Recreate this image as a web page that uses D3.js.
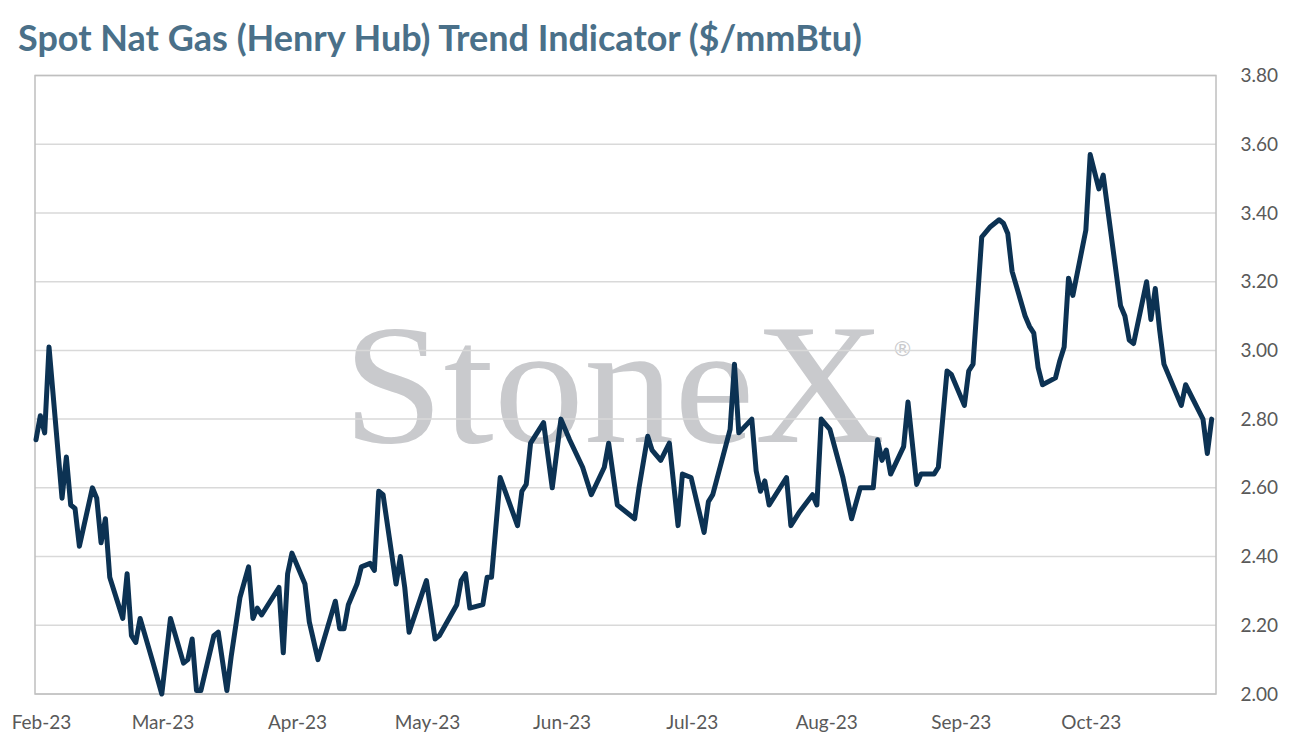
<!DOCTYPE html>
<html>
<head>
<meta charset="utf-8">
<script src="https://cdn.jsdelivr.net/npm/d3@7"></script>
<style>
  html, body { margin: 0; padding: 0; background: #ffffff; }
  svg { display: block; }
</style>
</head>
<body>
<svg id="chart" width="1292" height="754"></svg>
<script>
const titleText = "Spot Nat Gas (Henry Hub) Trend Indicator ($/mmBtu)";

const dates = [
  "2023-02-01","2023-02-02","2023-02-03","2023-02-04","2023-02-07","2023-02-08","2023-02-09","2023-02-10","2023-02-11","2023-02-14",
  "2023-02-15","2023-02-16","2023-02-17","2023-02-18","2023-02-21","2023-02-22","2023-02-23","2023-02-24","2023-02-25","2023-02-28",
  "2023-03-02","2023-03-04","2023-03-07","2023-03-08","2023-03-09","2023-03-10","2023-03-11","2023-03-14","2023-03-15","2023-03-17",
  "2023-03-18","2023-03-20","2023-03-22","2023-03-23","2023-03-24","2023-03-25","2023-03-27","2023-03-29","2023-03-30","2023-03-31",
  "2023-04-01","2023-04-04","2023-04-05","2023-04-07","2023-04-11","2023-04-12","2023-04-13","2023-04-14","2023-04-16","2023-04-17",
  "2023-04-19","2023-04-20","2023-04-21","2023-04-22","2023-04-25","2023-04-26","2023-04-27","2023-04-28",
  "2023-05-02","2023-05-04","2023-05-05","2023-05-09","2023-05-10","2023-05-11","2023-05-12","2023-05-15","2023-05-16","2023-05-17",
  "2023-05-19","2023-05-23","2023-05-24","2023-05-25","2023-05-26","2023-05-29","2023-05-31",
  "2023-06-02","2023-06-04","2023-06-07","2023-06-09","2023-06-12","2023-06-13","2023-06-15","2023-06-19","2023-06-20","2023-06-22",
  "2023-06-23","2023-06-25","2023-06-27","2023-06-29","2023-06-30",
  "2023-07-02","2023-07-05","2023-07-06","2023-07-07","2023-07-11","2023-07-12","2023-07-13","2023-07-16","2023-07-17","2023-07-18",
  "2023-07-19","2023-07-20","2023-07-24","2023-07-25","2023-07-27","2023-07-30","2023-07-31",
  "2023-08-01","2023-08-03","2023-08-06","2023-08-08","2023-08-10","2023-08-13","2023-08-14","2023-08-15","2023-08-16","2023-08-17",
  "2023-08-20","2023-08-21","2023-08-23","2023-08-24","2023-08-27","2023-08-28","2023-08-30","2023-08-31",
  "2023-09-03","2023-09-04","2023-09-05","2023-09-07","2023-09-09","2023-09-11","2023-09-12","2023-09-13","2023-09-14","2023-09-17",
  "2023-09-18","2023-09-19","2023-09-20","2023-09-21","2023-09-24","2023-09-25","2023-09-26","2023-09-27","2023-09-28",
  "2023-10-01","2023-10-02","2023-10-04","2023-10-05","2023-10-09","2023-10-10","2023-10-11","2023-10-12","2023-10-15","2023-10-16",
  "2023-10-17","2023-10-18","2023-10-19","2023-10-23","2023-10-24","2023-10-28","2023-10-29","2023-10-30"
];

const prices = [
  2.74,2.81,2.76,3.01,2.57,2.69,2.55,2.54,2.43,2.60,
  2.57,2.44,2.51,2.34,2.22,2.35,2.17,2.15,2.22,2.09,
  2.00,2.22,2.09,2.10,2.16,2.01,2.01,2.17,2.18,2.01,
  2.11,2.28,2.37,2.22,2.25,2.23,2.27,2.31,2.12,2.35,
  2.41,2.32,2.21,2.10,2.27,2.19,2.19,2.26,2.32,2.37,
  2.38,2.36,2.59,2.58,2.32,2.40,2.31,2.18,
  2.33,2.16,2.17,2.26,2.33,2.35,2.25,2.26,2.34,2.34,
  2.63,2.49,2.59,2.61,2.73,2.79,2.60,
  2.80,2.74,2.66,2.58,2.66,2.73,2.55,2.51,2.60,2.75,
  2.71,2.68,2.73,2.49,2.64,
  2.63,2.47,2.56,2.58,2.77,2.96,2.76,2.80,2.65,2.59,
  2.62,2.55,2.63,2.49,2.53,2.58,2.55,
  2.80,2.77,2.63,2.51,2.60,2.60,2.74,2.68,2.71,2.64,
  2.72,2.85,2.61,2.64,2.64,2.66,2.94,2.93,
  2.84,2.94,2.96,3.33,3.36,3.38,3.37,3.34,3.23,3.10,
  3.07,3.05,2.95,2.90,2.92,2.97,3.01,3.21,3.16,
  3.35,3.57,3.47,3.51,3.13,3.10,3.03,3.02,3.20,3.09,
  3.18,3.06,2.96,2.84,2.90,2.80,2.70,2.80
];

const yTickValues = [2.00, 2.20, 2.40, 2.60, 2.80, 3.00, 3.20, 3.40, 3.60, 3.80];
const xDomain = ["2023-02-01", "2023-10-31"];
const watermarkText = "StoneX";

const parse = d3.timeParse("%Y-%m-%d");
const series = dates.map((d, i) => ({ date: parse(d), value: prices[i] }));

const svg = d3.select("#chart");
const plot = { left: 35, right: 1216, top: 75.5, bottom: 694 };

const x = d3.scaleTime()
  .domain(xDomain.map(parse))
  .range([plot.left + 1, plot.right]);
const y = d3.scaleLinear()
  .domain([2.0, 3.8])
  .range([plot.bottom, plot.top]);

// Title
const title = svg.append("text")
  .attr("x", 18)
  .attr("y", 51)
  .attr("font-family", "Lato, 'Noto Sans', sans-serif")
  .attr("font-weight", 700)
  .attr("font-size", 31)
  .attr("fill", "#4a7089")
  .text(titleText);
const tw = title.node().getComputedTextLength();
title.attr("font-size", 31 * 844 / tw);

// Watermark
const wm = svg.append("text")
  .attr("x", 343)
  .attr("y", 442)
  .attr("font-family", "'Liberation Serif', 'DejaVu Serif', serif")
  .attr("font-size", 172)
  .attr("fill", "#c9cacd")
  .text(watermarkText);
wm.attr("textLength", 542).attr("lengthAdjust", "spacingAndGlyphs");
svg.append("text")
  .attr("x", 892)
  .attr("y", 356)
  .attr("font-family", "'DejaVu Sans', sans-serif")
  .attr("font-size", 21)
  .attr("fill", "#c9cacd")
  .text("\u00AE");

// Gridlines
svg.append("g")
  .selectAll("line")
  .data(yTickValues)
  .join("line")
  .attr("x1", plot.left)
  .attr("x2", plot.right)
  .attr("y1", d => y(d))
  .attr("y2", d => y(d))
  .attr("stroke", "#d9d9d9")
  .attr("stroke-width", 1.5);

// Plot border
svg.append("rect")
  .attr("x", plot.left)
  .attr("y", plot.top)
  .attr("width", plot.right - plot.left)
  .attr("height", plot.bottom - plot.top)
  .attr("fill", "none")
  .attr("stroke", "#bfbfbf")
  .attr("stroke-width", 1.5);

// Y axis (right)
const yAxis = d3.axisRight(y)
  .tickValues(yTickValues)
  .tickFormat(d3.format(".2f"))
  .tickSize(0)
  .tickPadding(0);
const gy = svg.append("g")
  .attr("transform", `translate(1278,0)`)
  .call(yAxis);
gy.select(".domain").remove();
gy.selectAll("text")
  .attr("text-anchor", "end")
  .attr("x", 0)
  .attr("font-family", "Lato, 'Noto Sans', sans-serif")
  .attr("font-size", 19)
  .attr("fill", "#595959");

// X axis
const xAxis = d3.axisBottom(x)
  .ticks(d3.timeMonth.every(1))
  .tickFormat(d3.timeFormat("%b-%y"))
  .tickSize(0)
  .tickPadding(0);
const gx = svg.append("g")
  .attr("transform", `translate(5,${plot.bottom})`)
  .call(xAxis);
gx.select(".domain").remove();
gx.selectAll("text")
  .attr("y", 29)
  .attr("dy", "0.32em")
  .attr("font-family", "Lato, 'Noto Sans', sans-serif")
  .attr("font-size", 19)
  .attr("fill", "#595959");

// Line
const line = d3.line()
  .x(d => x(d.date))
  .y(d => y(d.value));
svg.append("path")
  .datum(series)
  .attr("d", line)
  .attr("fill", "none")
  .attr("stroke", "#0c3253")
  .attr("stroke-width", 5)
  .attr("stroke-linejoin", "round")
  .attr("stroke-linecap", "round");
</script>
</body>
</html>
